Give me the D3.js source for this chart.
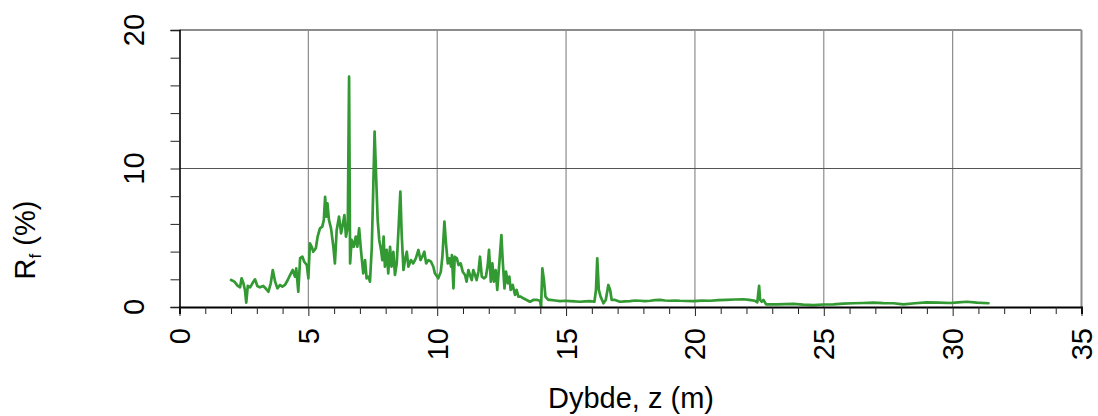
<!DOCTYPE html>
<html>
<head>
<meta charset="utf-8">
<script src="https://cdn.jsdelivr.net/npm/d3@7"></script>
<style>
  html, body { margin: 0; padding: 0; background: #fff; }
  svg { display: block; font-family: "Liberation Sans", Arial, Helvetica, sans-serif; }
</style>
</head>
<body>
<svg id="chart" width="1098" height="416"></svg>
<script>
// ---- data ----
const depth = [
  2.00,2.13,2.26,2.35,2.41,2.48,2.54,2.59,2.65,2.74,2.83,2.93,3.02,3.12,3.25,3.34,3.45,3.54,3.62,3.71,
  3.80,3.90,3.99,4.09,4.20,4.29,4.39,4.48,4.53,4.61,4.68,4.77,4.84,4.94,5.00,5.06,5.13,5.19,5.29,5.36,
  5.45,5.54,5.60,5.65,5.70,5.74,5.80,5.88,5.97,6.03,
  6.10,6.19,6.27,6.32,6.40,6.46,6.53,6.58,6.62,6.68,6.76,6.84,6.90,6.97,7.04,7.13,7.20,7.26,7.33,7.39,
  7.46,7.52,7.57,7.63,7.69,7.75,7.82,7.87,7.92,7.97,8.04,8.10,8.17,8.23,8.30,8.36,8.43,8.49,8.57,8.62,
  8.69,8.75,8.82,8.88,8.98,9.07,9.17,9.27,9.35,9.42,9.50,9.57,9.66,9.76,9.85,
  9.91,10.04,10.14,10.20,10.28,10.34,10.41,10.47,10.54,10.57,10.63,10.68,10.76,10.83,10.91,10.99,11.08,11.14,
  11.21,11.27,11.34,11.40,11.47,11.53,11.60,11.66,11.73,11.82,11.89,11.96,12.01,12.08,12.14,12.20,12.27,12.33,
  12.41,12.49,12.54,12.61,12.67,12.74,12.80,12.85,12.93,13.02,13.08,13.15,13.24,13.34,13.47,13.60,13.73,13.88,
  13.99,14.03,14.08,14.14,14.20,14.31,
  14.38,14.58,14.77,14.96,15.15,15.35,15.54,15.74,15.93,16.10,16.16,16.21,16.27,16.34,16.45,16.54,16.64,16.71,16.77,16.90,
  17.09,17.28,17.48,17.68,17.87,18.06,18.26,18.45,18.65,18.84,19.03,19.22,19.42,
  19.94,20.27,20.59,20.91,21.23,21.55,21.88,22.10,22.33,22.42,22.49,22.53,22.59,22.66,22.76,23.17,23.50,23.82,
  24.20,24.59,24.98,25.37,25.76,26.15,26.53,26.92,27.31,27.70,28.09,28.54,28.99,29.45,29.90,30.22,30.55,30.94,31.39
];
const rf = [
  1.95,1.83,1.52,1.42,2.07,1.71,1.23,0.31,1.52,1.42,1.71,2.00,1.52,1.42,1.52,1.35,1.10,1.71,2.67,1.83,
  1.35,1.59,1.47,1.59,1.95,2.31,2.67,2.19,2.79,1.10,3.52,3.63,3.27,3.03,2.07,4.60,4.35,3.99,4.24,5.08,
  5.68,5.80,6.28,7.96,6.52,7.49,6.28,5.68,4.35,3.15,
  5.56,6.52,5.32,5.80,6.64,5.08,5.80,16.63,3.15,4.84,4.35,5.08,4.35,5.68,4.12,2.43,3.39,2.07,2.19,1.83,
  4.24,8.69,12.66,9.41,6.28,4.84,4.12,3.39,5.08,2.91,4.12,2.43,4.35,2.91,3.99,2.31,3.15,5.32,8.33,5.32,
  2.67,3.39,3.99,2.91,3.39,3.15,3.51,4.12,3.39,3.63,3.99,3.15,3.39,3.27,2.91,
  2.43,2.07,2.55,3.63,6.16,4.60,3.15,3.51,2.91,3.75,1.35,3.63,3.51,3.03,3.15,2.55,2.31,1.83,
  2.67,2.31,1.95,2.67,2.31,1.95,2.55,3.63,2.19,2.07,2.19,3.03,4.12,1.83,3.15,1.83,2.67,1.23,
  3.15,5.20,3.39,1.35,2.55,1.71,2.19,1.23,1.59,0.87,1.23,0.75,0.75,0.63,0.51,0.38,0.51,0.51,
  0.45,0.02,2.79,1.95,0.75,0.51,
  0.51,0.47,0.43,0.45,0.43,0.40,0.38,0.41,0.43,0.38,1.23,3.51,1.23,0.75,0.27,0.51,1.59,1.23,0.51,0.51,
  0.38,0.41,0.43,0.47,0.45,0.43,0.45,0.49,0.51,0.47,0.45,0.47,0.45,
  0.43,0.46,0.45,0.49,0.51,0.54,0.56,0.52,0.45,0.34,1.52,0.51,0.38,0.51,0.19,0.19,0.21,0.22,
  0.17,0.14,0.18,0.19,0.24,0.27,0.29,0.31,0.28,0.27,0.19,0.27,0.34,0.31,0.29,0.33,0.38,0.31,0.27
];
const xTicks = [0, 5, 10, 15, 20, 25, 30, 35];
const yTicks = [0, 10, 20];
const xLabel = "Dybde, z (m)";

// ---- layout ----
const svg = d3.select("#chart");
const L = 179.5, R = 1081.5, T = 30, B = 307;
const x = d3.scaleLinear().domain([0, 35]).range([L, R]);
const y = d3.scaleLinear().domain([0, 20]).range([B, T]);

// vertical grid
svg.append("g").selectAll("line").data(xTicks.filter(v => v > 0 && v < 35)).join("line")
  .attr("x1", d => x(d)).attr("x2", d => x(d)).attr("y1", T).attr("y2", B)
  .attr("stroke", "#8c8c8c").attr("stroke-width", 1.2);
// horizontal grid
svg.append("g").selectAll("line").data(yTicks.filter(v => v > 0 && v < 20)).join("line")
  .attr("x1", L).attr("x2", R).attr("y1", d => y(d)).attr("y2", d => y(d))
  .attr("stroke", "#555").attr("stroke-width", 1);

// frame: top & right gray
svg.append("line").attr("x1", L).attr("x2", R).attr("y1", T).attr("y2", T)
  .attr("stroke", "#8c8c8c").attr("stroke-width", 2);
svg.append("line").attr("x1", R).attr("x2", R).attr("y1", T).attr("y2", B)
  .attr("stroke", "#8c8c8c").attr("stroke-width", 2);

// data line
svg.append("path")
  .datum(depth.map((d, i) => [d, rf[i]]))
  .attr("fill", "none")
  .attr("stroke", "#339933")
  .attr("stroke-width", 2.7)
  .attr("stroke-linejoin", "round")
  .attr("stroke-linecap", "round")
  .attr("d", d3.line().x(d => x(d[0])).y(d => y(d[1])));

// y axis
const yAxis = d3.axisLeft(y).tickValues(d3.range(0, 21, 2)).tickSize(9).tickFormat("");
const gy = svg.append("g").attr("transform", `translate(${L},0)`).call(yAxis);
gy.select(".domain").attr("stroke", "#000").attr("stroke-width", 1.6);
gy.selectAll(".tick line").attr("stroke", "#222").attr("stroke-width", 1);
svg.append("g").selectAll("text").data(yTicks).join("text")
  .attr("transform", d => `translate(134,${y(d)}) rotate(-90)`)
  .attr("text-anchor", "middle").attr("dy", "0.36em")
  .attr("font-size", 29).attr("fill", "#000")
  .text(d => d);

// x axis
const xAxis = d3.axisBottom(x).tickValues(d3.range(0, 36, 1)).tickSize(7).tickFormat("");
const gx = svg.append("g").attr("transform", `translate(0,${B})`).call(xAxis);
gx.select(".domain").attr("stroke", "#000").attr("stroke-width", 2);
gx.selectAll(".tick line").attr("stroke", "#222").attr("stroke-width", 1)
  .attr("y2", d => d % 5 === 0 ? 9 : 7);
svg.append("g").selectAll("text").data(xTicks).join("text")
  .attr("transform", d => `translate(${x(d)},328) rotate(-90)`)
  .attr("text-anchor", "end").attr("dy", "0.36em")
  .attr("font-size", 29).attr("fill", "#000")
  .text(d => d);

// axis titles
svg.append("text").attr("x", (L + R) / 2 + 0.5).attr("y", 408)
  .attr("text-anchor", "middle").attr("font-size", 29).attr("fill", "#000")
  .text(xLabel);
const yt = svg.append("text")
  .attr("transform", "translate(35,240) rotate(-90)")
  .attr("text-anchor", "middle").attr("font-size", 29).attr("fill", "#000");
yt.append("tspan").text("R");
yt.append("tspan").attr("font-size", 17).attr("dy", 6).text("f");
yt.append("tspan").attr("dy", -6).text(" (%)");
</script>
</body>
</html>
